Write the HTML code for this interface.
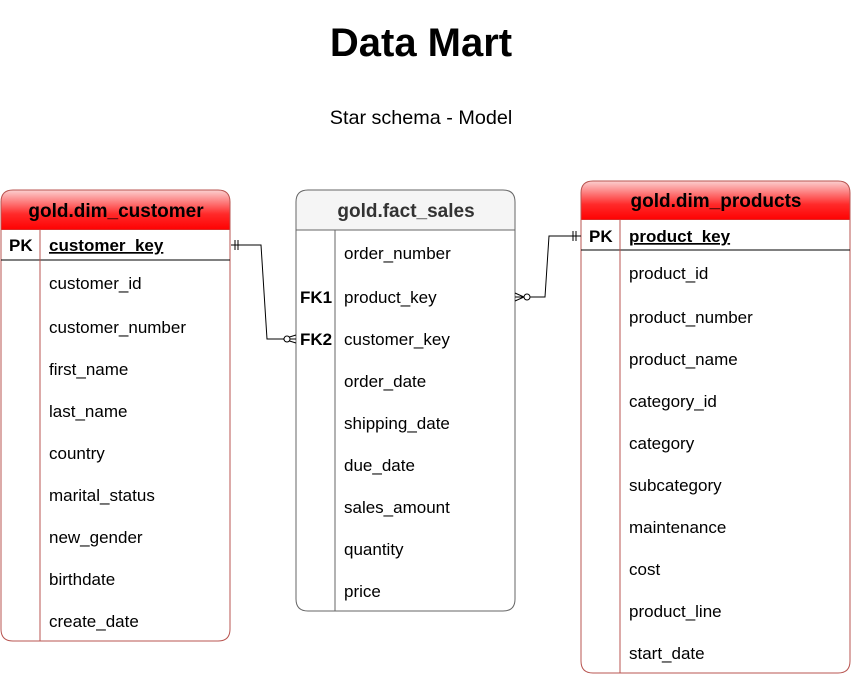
<!DOCTYPE html>
<html><head><style>body{margin:0;background:#fff}svg{display:block}</style></head><body>
<svg width="851" height="675" xmlns="http://www.w3.org/2000/svg" font-family="Liberation Sans, Arial, sans-serif">
<defs>
<linearGradient id="rg" x1="0" y1="0" x2="0" y2="1"><stop offset="0" stop-color="#fbd0d0"/><stop offset="0.6" stop-color="#ff2a2a"/><stop offset="1" stop-color="#ff0000"/></linearGradient>
</defs>
<text x="421" y="56" font-size="40" font-weight="bold" text-anchor="middle">Data Mart</text>
<text x="421" y="124" font-size="19.8" text-anchor="middle">Star schema - Model</text>

<!-- customer -->
<path d="M1,230 V202 Q1,190 13,190 H218 Q230,190 230,202 V230 Z" fill="url(#rg)" stroke="#b85450"/>
<path d="M1,230 V629 Q1,641 13,641 H218 Q230,641 230,629 V230" fill="#fff" stroke="#b85450"/>
<line x1="1" y1="260" x2="230" y2="260" stroke="#000"/>
<line x1="40" y1="230" x2="40" y2="641" stroke="#b85450"/>
<text x="116" y="217" font-size="19" font-weight="bold" text-anchor="middle">gold.dim_customer</text>
<text x="9" y="251" font-size="17" font-weight="bold">PK</text>
<text x="49" y="251" font-size="17" font-weight="bold" text-decoration="underline">customer_key</text>
<g font-size="17">
<text x="49" y="289">customer_id</text>
<text x="49" y="333">customer_number</text>
<text x="49" y="375">first_name</text>
<text x="49" y="417">last_name</text>
<text x="49" y="459">country</text>
<text x="49" y="501">marital_status</text>
<text x="49" y="543">new_gender</text>
<text x="49" y="585">birthdate</text>
<text x="49" y="627">create_date</text>
</g>

<!-- fact -->
<path d="M296,230 V202 Q296,190 308,190 H503 Q515,190 515,202 V230 Z" fill="#f5f5f5" stroke="#666"/>
<path d="M296,230 V599 Q296,611 308,611 H503 Q515,611 515,599 V230 Z" fill="#fff" stroke="#666"/>
<line x1="296" y1="230" x2="515" y2="230" stroke="#666"/>
<line x1="335" y1="230" x2="335" y2="611" stroke="#666"/>
<text x="406" y="217" font-size="19" font-weight="bold" text-anchor="middle" fill="#333">gold.fact_sales</text>
<text x="300" y="303" font-size="17" font-weight="bold">FK1</text>
<text x="300" y="345" font-size="17" font-weight="bold">FK2</text>
<g font-size="17">
<text x="344" y="259">order_number</text>
<text x="344" y="303">product_key</text>
<text x="344" y="345">customer_key</text>
<text x="344" y="387">order_date</text>
<text x="344" y="429">shipping_date</text>
<text x="344" y="471">due_date</text>
<text x="344" y="513">sales_amount</text>
<text x="344" y="555">quantity</text>
<text x="344" y="597">price</text>
</g>

<!-- products -->
<path d="M581,220 V193 Q581,181 593,181 H838 Q850,181 850,193 V220 Z" fill="url(#rg)" stroke="#b85450"/>
<path d="M581,220 V661 Q581,673 593,673 H838 Q850,673 850,661 V220" fill="#fff" stroke="#b85450"/>
<line x1="581" y1="250" x2="850" y2="250" stroke="#000"/>
<line x1="620" y1="220" x2="620" y2="673" stroke="#b85450"/>
<text x="716" y="207" font-size="19" font-weight="bold" text-anchor="middle">gold.dim_products</text>
<text x="589" y="242" font-size="17" font-weight="bold">PK</text>
<text x="629" y="242" font-size="17" font-weight="bold" text-decoration="underline">product_key</text>
<g font-size="17">
<text x="629" y="279">product_id</text>
<text x="629" y="323">product_number</text>
<text x="629" y="365">product_name</text>
<text x="629" y="407">category_id</text>
<text x="629" y="449">category</text>
<text x="629" y="491">subcategory</text>
<text x="629" y="533">maintenance</text>
<text x="629" y="575">cost</text>
<text x="629" y="617">product_line</text>
<text x="629" y="659">start_date</text>
</g>

<!-- connectors -->
<g fill="none" stroke="#000" stroke-width="1">
<path d="M231,245 H261 L267,339 H296"/>
<line x1="235" y1="240" x2="235" y2="250"/><line x1="238" y1="240" x2="238" y2="250"/>
<path d="M296,335 L283,339 L296,343"/>
<circle cx="287" cy="339" r="3" fill="#fff"/>
<path d="M515,297 H545 L549,236 H581"/>
<line x1="573" y1="231" x2="573" y2="241"/><line x1="576" y1="231" x2="576" y2="241"/>
<path d="M515,293 L524,297 L515,301"/>
<circle cx="527" cy="297" r="3" fill="#fff"/>
</g>
</svg>
</body></html>
